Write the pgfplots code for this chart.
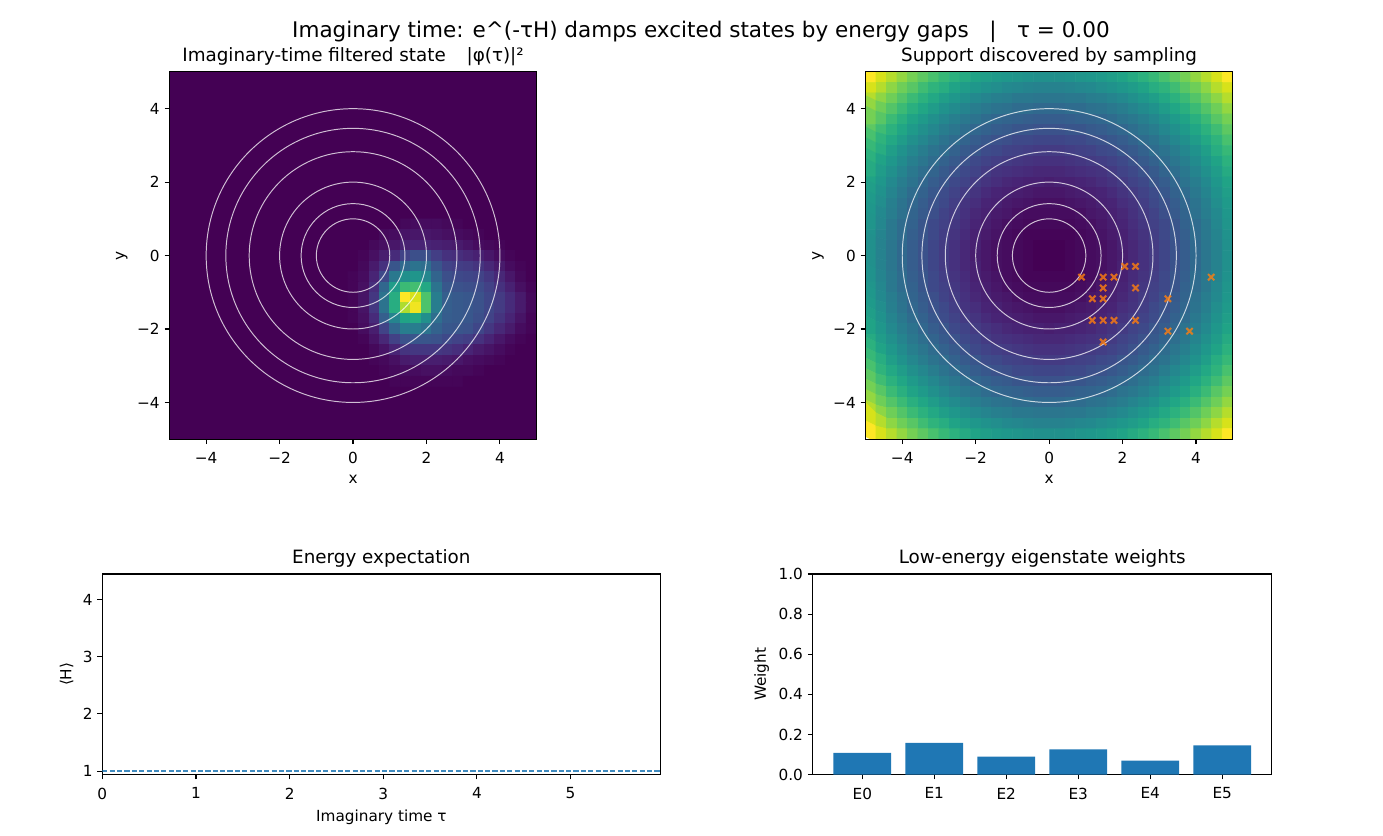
\documentclass[border=0pt]{standalone}
\usepackage{fontspec}
\setmainfont{DejaVu Sans}
\usepackage{pgfplots}
\usepackage{pgfplotstable}
\pgfplotsset{compat=1.18}

\definecolor{tabblue}{HTML}{1F77B4}
\definecolor{taborange}{HTML}{FF7F0E}
\definecolor{vir0}{HTML}{440154}

% potential V(x,y), 35x35 cells, scaled to 0..100, rows from top
\pgfplotstableread[row sep=\\]{
v\\
100\\94\\89\\84\\79\\75\\71\\67\\64\\61\\58\\56\\54\\53\\52\\51\\50\\50\\50\\51\\52\\53\\54\\56\\58\\61\\64\\67\\71\\75\\79\\84\\89\\94\\100\\
94\\89\\83\\78\\74\\69\\65\\62\\58\\55\\53\\51\\49\\47\\46\\45\\44\\44\\44\\45\\46\\47\\49\\51\\53\\55\\58\\62\\65\\69\\74\\78\\83\\89\\94\\
89\\83\\78\\73\\68\\64\\60\\56\\53\\50\\47\\45\\43\\42\\40\\40\\39\\39\\39\\40\\40\\42\\43\\45\\47\\50\\53\\56\\60\\64\\68\\73\\78\\83\\89\\
84\\78\\73\\68\\63\\59\\55\\51\\48\\45\\42\\40\\38\\37\\35\\35\\34\\34\\34\\35\\35\\37\\38\\40\\42\\45\\48\\51\\55\\59\\63\\68\\73\\78\\84\\
79\\74\\68\\63\\58\\54\\50\\46\\43\\40\\38\\35\\33\\32\\31\\30\\29\\29\\29\\30\\31\\32\\33\\35\\38\\40\\43\\46\\50\\54\\58\\63\\68\\74\\79\\
75\\69\\64\\59\\54\\50\\46\\42\\39\\36\\33\\31\\29\\28\\26\\26\\25\\25\\25\\26\\26\\28\\29\\31\\33\\36\\39\\42\\46\\50\\54\\59\\64\\69\\75\\
71\\65\\60\\55\\50\\46\\42\\38\\35\\32\\29\\27\\25\\24\\22\\22\\21\\21\\21\\22\\22\\24\\25\\27\\29\\32\\35\\38\\42\\46\\50\\55\\60\\65\\71\\
67\\62\\56\\51\\46\\42\\38\\35\\31\\28\\26\\23\\22\\20\\19\\18\\17\\17\\17\\18\\19\\20\\22\\23\\26\\28\\31\\35\\38\\42\\46\\51\\56\\62\\67\\
64\\58\\53\\48\\43\\39\\35\\31\\28\\25\\22\\20\\18\\17\\16\\15\\14\\14\\14\\15\\16\\17\\18\\20\\22\\25\\28\\31\\35\\39\\43\\48\\53\\58\\64\\
61\\55\\50\\45\\40\\36\\32\\28\\25\\22\\20\\17\\15\\14\\13\\12\\11\\11\\11\\12\\13\\14\\15\\17\\20\\22\\25\\28\\32\\36\\40\\45\\50\\55\\61\\
58\\53\\47\\42\\38\\33\\29\\26\\22\\20\\17\\15\\13\\11\\10\\9\\9\\8\\9\\9\\10\\11\\13\\15\\17\\20\\22\\26\\29\\33\\38\\42\\47\\53\\58\\
56\\51\\45\\40\\35\\31\\27\\23\\20\\17\\15\\12\\10\\9\\8\\7\\6\\6\\6\\7\\8\\9\\10\\12\\15\\17\\20\\23\\27\\31\\35\\40\\45\\51\\56\\
54\\49\\43\\38\\33\\29\\25\\22\\18\\15\\13\\10\\9\\7\\6\\5\\4\\4\\4\\5\\6\\7\\9\\10\\13\\15\\18\\22\\25\\29\\33\\38\\43\\49\\54\\
53\\47\\42\\37\\32\\28\\24\\20\\17\\14\\11\\9\\7\\6\\4\\3\\3\\3\\3\\3\\4\\6\\7\\9\\11\\14\\17\\20\\24\\28\\32\\37\\42\\47\\53\\
52\\46\\40\\35\\31\\26\\22\\19\\16\\13\\10\\8\\6\\4\\3\\2\\2\\2\\2\\2\\3\\4\\6\\8\\10\\13\\16\\19\\22\\26\\31\\35\\40\\46\\52\\
51\\45\\40\\35\\30\\26\\22\\18\\15\\12\\9\\7\\5\\3\\2\\1\\1\\1\\1\\1\\2\\3\\5\\7\\9\\12\\15\\18\\22\\26\\30\\35\\40\\45\\51\\
50\\44\\39\\34\\29\\25\\21\\17\\14\\11\\9\\6\\4\\3\\2\\1\\0\\0\\0\\1\\2\\3\\4\\6\\9\\11\\14\\17\\21\\25\\29\\34\\39\\44\\50\\
50\\44\\39\\34\\29\\25\\21\\17\\14\\11\\8\\6\\4\\3\\2\\1\\0\\0\\0\\1\\2\\3\\4\\6\\8\\11\\14\\17\\21\\25\\29\\34\\39\\44\\50\\
50\\44\\39\\34\\29\\25\\21\\17\\14\\11\\9\\6\\4\\3\\2\\1\\0\\0\\0\\1\\2\\3\\4\\6\\9\\11\\14\\17\\21\\25\\29\\34\\39\\44\\50\\
51\\45\\40\\35\\30\\26\\22\\18\\15\\12\\9\\7\\5\\3\\2\\1\\1\\1\\1\\1\\2\\3\\5\\7\\9\\12\\15\\18\\22\\26\\30\\35\\40\\45\\51\\
52\\46\\40\\35\\31\\26\\22\\19\\16\\13\\10\\8\\6\\4\\3\\2\\2\\2\\2\\2\\3\\4\\6\\8\\10\\13\\16\\19\\22\\26\\31\\35\\40\\46\\52\\
53\\47\\42\\37\\32\\28\\24\\20\\17\\14\\11\\9\\7\\6\\4\\3\\3\\3\\3\\3\\4\\6\\7\\9\\11\\14\\17\\20\\24\\28\\32\\37\\42\\47\\53\\
54\\49\\43\\38\\33\\29\\25\\22\\18\\15\\13\\10\\9\\7\\6\\5\\4\\4\\4\\5\\6\\7\\9\\10\\13\\15\\18\\22\\25\\29\\33\\38\\43\\49\\54\\
56\\51\\45\\40\\35\\31\\27\\23\\20\\17\\15\\12\\10\\9\\8\\7\\6\\6\\6\\7\\8\\9\\10\\12\\15\\17\\20\\23\\27\\31\\35\\40\\45\\51\\56\\
58\\53\\47\\42\\38\\33\\29\\26\\22\\20\\17\\15\\13\\11\\10\\9\\9\\8\\9\\9\\10\\11\\13\\15\\17\\20\\22\\26\\29\\33\\38\\42\\47\\53\\58\\
61\\55\\50\\45\\40\\36\\32\\28\\25\\22\\20\\17\\15\\14\\13\\12\\11\\11\\11\\12\\13\\14\\15\\17\\20\\22\\25\\28\\32\\36\\40\\45\\50\\55\\61\\
64\\58\\53\\48\\43\\39\\35\\31\\28\\25\\22\\20\\18\\17\\16\\15\\14\\14\\14\\15\\16\\17\\18\\20\\22\\25\\28\\31\\35\\39\\43\\48\\53\\58\\64\\
67\\62\\56\\51\\46\\42\\38\\35\\31\\28\\26\\23\\22\\20\\19\\18\\17\\17\\17\\18\\19\\20\\22\\23\\26\\28\\31\\35\\38\\42\\46\\51\\56\\62\\67\\
71\\65\\60\\55\\50\\46\\42\\38\\35\\32\\29\\27\\25\\24\\22\\22\\21\\21\\21\\22\\22\\24\\25\\27\\29\\32\\35\\38\\42\\46\\50\\55\\60\\65\\71\\
75\\69\\64\\59\\54\\50\\46\\42\\39\\36\\33\\31\\29\\28\\26\\26\\25\\25\\25\\26\\26\\28\\29\\31\\33\\36\\39\\42\\46\\50\\54\\59\\64\\69\\75\\
79\\74\\68\\63\\58\\54\\50\\46\\43\\40\\38\\35\\33\\32\\31\\30\\29\\29\\29\\30\\31\\32\\33\\35\\38\\40\\43\\46\\50\\54\\58\\63\\68\\74\\79\\
84\\78\\73\\68\\63\\59\\55\\51\\48\\45\\42\\40\\38\\37\\35\\35\\34\\34\\34\\35\\35\\37\\38\\40\\42\\45\\48\\51\\55\\59\\63\\68\\73\\78\\84\\
89\\83\\78\\73\\68\\64\\60\\56\\53\\50\\47\\45\\43\\42\\40\\40\\39\\39\\39\\40\\40\\42\\43\\45\\47\\50\\53\\56\\60\\64\\68\\73\\78\\83\\89\\
94\\89\\83\\78\\74\\69\\65\\62\\58\\55\\53\\51\\49\\47\\46\\45\\44\\44\\44\\45\\46\\47\\49\\51\\53\\55\\58\\62\\65\\69\\74\\78\\83\\89\\94\\
100\\94\\89\\84\\79\\75\\71\\67\\64\\61\\58\\56\\54\\53\\52\\51\\50\\50\\50\\51\\52\\53\\54\\56\\58\\61\\64\\67\\71\\75\\79\\84\\89\\94\\100\\
}\potential

% |phi|^2 at tau=0, cells k=16..34, rows 14..29 (rest is 0), scaled to 0..100
\pgfplotstableread[row sep=\\]{
v\\
0\\0\\0\\0\\0\\0\\2\\3\\3\\3\\2\\1\\0\\0\\0\\0\\0\\0\\0\\
0\\0\\0\\0\\2\\3\\5\\6\\6\\5\\4\\3\\2\\1\\0\\0\\0\\0\\0\\
0\\0\\0\\2\\4\\6\\9\\10\\10\\9\\8\\7\\5\\3\\2\\1\\0\\0\\0\\
0\\0\\1\\4\\8\\12\\20\\24\\24\\18\\14\\13\\11\\9\\6\\3\\1\\0\\0\\
0\\0\\2\\7\\14\\26\\34\\38\\36\\26\\20\\18\\17\\15\\11\\7\\3\\1\\0\\
0\\1\\3\\10\\22\\40\\50\\52\\46\\32\\24\\22\\21\\20\\16\\11\\6\\2\\0\\
0\\1\\4\\13\\33\\55\\68\\70\\60\\38\\27\\25\\24\\23\\19\\14\\9\\4\\1\\
0\\1\\5\\16\\38\\62\\100\\94\\72\\42\\30\\28\\27\\25\\21\\17\\12\\7\\2\\
0\\1\\5\\16\\38\\62\\88\\98\\72\\42\\30\\28\\27\\25\\21\\17\\12\\7\\2\\
0\\1\\4\\12\\30\\45\\58\\60\\50\\36\\29\\28\\27\\24\\20\\15\\10\\5\\1\\
0\\0\\3\\8\\20\\33\\42\\42\\38\\31\\27\\26\\25\\21\\16\\11\\7\\3\\1\\
0\\0\\1\\5\\11\\19\\25\\26\\26\\25\\22\\20\\18\\14\\10\\6\\3\\1\\0\\
0\\0\\0\\2\\5\\10\\15\\16\\16\\16\\15\\13\\10\\7\\5\\3\\1\\0\\0\\
0\\0\\0\\1\\2\\4\\7\\8\\8\\8\\7\\6\\4\\3\\2\\1\\0\\0\\0\\
0\\0\\0\\0\\1\\2\\3\\3\\4\\4\\3\\2\\2\\1\\0\\0\\0\\0\\0\\
0\\0\\0\\0\\0\\1\\1\\1\\1\\1\\1\\1\\0\\0\\0\\0\\0\\0\\0\\
}\phitab

\tikzset{rings/.style={white, opacity=0.75, line width=0.7pt}}

\pgfplotsset{
  mpl/.style={
    scale only axis,
    tick align=outside,
    major tick length=3.5pt,
    tick style={black, line width=0.8pt},
    axis line style={line width=0.8pt},
    xtick pos=left, ytick pos=left,
    ticklabel style={font=\fontsize{11}{13}\selectfont},
    xticklabel style={yshift=-2.5pt},
    label style={font=\fontsize{11}{13}\selectfont},
    xlabel style={yshift=-1pt},
    title style={font=\fontsize{13.2}{15}\selectfont, at={(0.5,1)}, anchor=base, yshift=1.6pt},
    /pgf/number format/assume math mode=true,
  },
  heat/.style={
    mpl, width=264.4pt, height=264.4pt,
    xmin=-5, xmax=5, ymin=-5, ymax=5, axis on top,
    xtick={-4,-2,0,2,4}, xticklabels={−4,−2,0,2,4},
    ytick={-4,-2,0,2,4}, yticklabels={−4,−2,0,2,4},
    xlabel={x}, ylabel={y},
    colormap/viridis, point meta min=0, point meta max=100,
  },
}

\begin{document}
\begin{tikzpicture}
\useasboundingbox (0pt,0pt) rectangle (995.8pt,-601.9pt);

\node[font=\fontsize{15.5}{18}\selectfont, anchor=base] at (504.7pt,-27pt)
  {Imaginary time: e\textasciicircum(-τH) damps excited states by energy gaps\hspace{14.8pt}|\hspace{14.8pt}τ = 0.00};

% top left: filtered state
\begin{axis}[heat, at={(122.0pt,-51.8pt)}, anchor=north west,
  title={Imaginary-time filtered state\hspace{15pt}|φ(τ)|²},
  axis background/.style={fill=vir0}]
\addplot[matrix plot*, mesh/cols=19, point meta=\thisrow{v}]
  table[x index=0, y index=0,
        x expr={-5+(16+mod(\coordindex,19)+0.5)*10/35},
        y expr={5-(14+floor(\coordindex/19)+0.5)*10/35}] {\phitab};
\draw[rings] (axis cs:0,0) circle[radius=1] (axis cs:0,0) circle[radius=1.4142]
  (axis cs:0,0) circle[radius=2] (axis cs:0,0) circle[radius=2.8284]
  (axis cs:0,0) circle[radius=3.4641] (axis cs:0,0) circle[radius=4];
\end{axis}

% top right: potential with samples
\begin{axis}[heat, at={(623.2pt,-51.8pt)}, anchor=north west,
  title={Support discovered by sampling}]
\addplot[matrix plot*, mesh/cols=35, point meta=\thisrow{v}]
  table[x index=0, y index=0,
        x expr={-5+(mod(\coordindex,35)+0.5)*10/35},
        y expr={5-(floor(\coordindex/35)+0.5)*10/35}] {\potential};
\draw[rings] (axis cs:0,0) circle[radius=1] (axis cs:0,0) circle[radius=1.4142]
  (axis cs:0,0) circle[radius=2] (axis cs:0,0) circle[radius=2.8284]
  (axis cs:0,0) circle[radius=3.4641] (axis cs:0,0) circle[radius=4];
\addplot[only marks, mark=x, mark size=3.2pt, line width=1.5pt, taborange, opacity=0.8]
  coordinates {
  (0.882,-0.588) (1.471,-0.588) (1.765,-0.588) (2.059,-0.294) (2.353,-0.294)
  (1.471,-0.882) (2.353,-0.882) (1.176,-1.176) (1.471,-1.176) (3.235,-1.176)
  (1.176,-1.765) (1.471,-1.765) (1.765,-1.765) (2.353,-1.765) (3.235,-2.059)
  (3.824,-2.059) (1.471,-2.353) (4.412,-0.588)
  };
\end{axis}

% bottom left: energy
\begin{axis}[mpl, at={(73.7pt,-413.3pt)}, anchor=north west,
  width=401.8pt, height=144.4pt,
  xmin=0, xmax=5.96, ymin=0.94, ymax=4.445,
  xtick={0,1,2,3,4,5}, ytick={1,2,3,4},
  xlabel={Imaginary time τ}, ylabel={⟨H⟩},
  title={Energy expectation}]
\addplot[tabblue, opacity=0.85, line width=1pt, dash pattern=on 3.7pt off 1.6pt]
  coordinates {(0,1) (5.96,1)};
\end{axis}

% bottom right: weights
\begin{axis}[mpl, at={(585.1pt,-413.3pt)}, anchor=north west,
  width=330.7pt, height=144.4pt,
  xmin=-0.69, xmax=5.69, ymin=0, ymax=1,
  xtick={0,1,2,3,4,5}, xticklabels={E0,E1,E2,E3,E4,E5},
  ytick={0,0.2,0.4,0.6,0.8,1}, yticklabels={0.0,0.2,0.4,0.6,0.8,1.0},
  ylabel={Weight},
  title={Low-energy eigenstate weights}]
\addplot[ybar, bar width=0.8, fill=tabblue, draw=none]
  coordinates {(0,0.108) (1,0.158) (2,0.090) (3,0.125) (4,0.070) (5,0.146)};
\end{axis}
\end{tikzpicture}
\end{document}
